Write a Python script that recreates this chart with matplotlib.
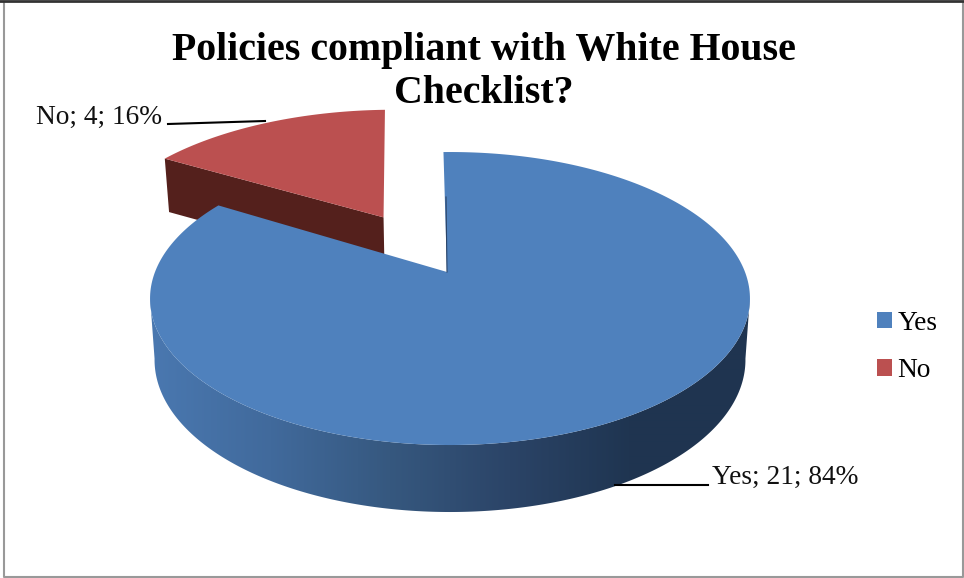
import numpy as np
import matplotlib
matplotlib.use('Agg')
from matplotlib import pyplot as plt
from matplotlib.colors import LinearSegmentedColormap
from matplotlib.patches import Patch, Polygon

categories = ['Yes', 'No']
counts = [21, 4]
title = 'Policies compliant with White House\nChecklist?'

blue = '#4f81bd'
red = '#bb5050'
red_wall = '#54201c'

# projected circle: centre, scale and perspective, all in pixels of the picture
cx, cy = 450, 272
sx, sy, persp = 295, 141.7, 0.181
explode = 0.48
turn = np.radians(-1.5)
apex_u = -3 / sx
red_radius = 1.03


def project(u, v):
    d = 1 + persp * v
    return cx + sx * u / d, cy - sy * v / d


def drop(x, v):
    # the floor of the pie, a little lower at the front than at the back
    return cx + (x - cx) * 0.985, 60 - 7 * v


def face(a0, a1, off_u=0.0, off_v=0.0, radius=1.0, n=300):
    # a = clockwise angle from the top, in radians
    a = np.linspace(a0, a1, n)
    return np.sin(a) * radius + off_u, np.cos(a) * radius + off_v


fig = plt.figure(figsize=(9.64, 5.78), dpi=100)
ax = fig.add_axes([0, 0, 1, 1])
ax.set_xlim(0, 964)
ax.set_ylim(578, 0)
ax.axis('off')

total = sum(counts)
shares = np.array(counts) / total
start_yes = turn
end_yes = turn + 2 * np.pi * shares[0]

# red slice, pulled out along its middle
mid = end_yes + np.pi * shares[1]
eu, ev = explode * np.sin(mid), explode * np.cos(mid)
u, v = face(end_yes - np.radians(0.5), start_yes + 2 * np.pi - np.radians(0.5), eu, ev, red_radius)
x, y = project(u, v)
ax0, ay0 = project(eu, ev)
ax.add_patch(Polygon(np.r_[np.c_[x, y], [[ax0, ay0]]], fc=red, ec='none', zorder=3))

# wall of the red slice, from the outer corner to the apex
bx, dy = drop(x[0], v[0])
bx2, dy2 = drop(ax0, ev)
ax.add_patch(Polygon([[x[0], y[0]], [bx, y[0] + dy], [bx2, ay0 + dy2 - 3], [ax0, ay0]],
                     fc=red_wall, ec='none', zorder=2))

# side of the blue slice, shaded from left to right and clipped to its outline
side = LinearSegmentedColormap.from_list('side', ['#4a78b0', '#416a9c', '#36587f', '#2b4467',
                                                  '#1f3551', '#1f3450'], N=512)
u, v = face(np.radians(100), np.radians(260))
x, y = project(u, v)
fx, dy = drop(x, v)
outline = Polygon(np.r_[np.c_[x, y], np.c_[fx, y + dy][::-1]], fc='none', ec='none',
                  transform=ax.transData)
ax.add_patch(outline)
im = ax.imshow(np.linspace(0, 1, 600).reshape(1, -1), cmap=side, extent=(150, 750, 520, 290),
               aspect='auto', interpolation='bilinear', zorder=4)
im.set_clip_path(outline)
ax.set_xlim(0, 964)
ax.set_ylim(578, 0)

# top of the blue slice
u, v = face(start_yes, end_yes)
x, y = project(u, v)
apex_x, apex_y = project(apex_u, 0)
ax.add_patch(Polygon(np.r_[np.c_[x, y], [[apex_x, apex_y]]], fc=blue, ec='none', zorder=5))
ax.plot([apex_x - 1, apex_x], [apex_y - 75, apex_y], color='#2b4467', lw=0.8, zorder=6)

# data labels with their leader lines
labels = ['%s; %d; %d%%' % (c, n, round(s * 100)) for c, n, s in zip(categories, counts, shares)]
ax.text(712, 477, labels[0], family='Liberation Serif', fontsize=19.7, color='#111111',
        ha='left', va='center', zorder=7)
ax.plot([615, 708], [485, 485], color='black', lw=1.5, zorder=7)
ax.text(162, 117, labels[1], family='Liberation Serif', fontsize=19.7, color='#111111',
        ha='right', va='center', zorder=7)
ax.plot([168, 265], [124, 121], color='black', lw=1.5, zorder=7)

ax.text(484, 72, title, family='Liberation Serif', fontweight='bold', fontsize=28.7, color='black',
        ha='center', va='center', linespacing=1.19, zorder=1)

handles = [Patch(fc=blue, ec='none'), Patch(fc=red, ec='none')]
ax.legend(handles, categories, loc='center left', bbox_to_anchor=(877 / 964, 1 - 347 / 578),
          frameon=False, handlelength=0.55, handleheight=0.55, handletextpad=0.19, labelspacing=0.82,
          borderpad=0, borderaxespad=0, prop={'family': 'Liberation Serif', 'size': 19.7})

# frame of the picture
ax.plot([3.5, 3.5, 963, 963], [2, 577, 577, 2], color='#999999', lw=1.5, zorder=8)
ax.plot([0, 964], [1, 1], color='#333333', lw=2, zorder=8)

fig.savefig('out.png', dpi=100)
plt.close(fig)
